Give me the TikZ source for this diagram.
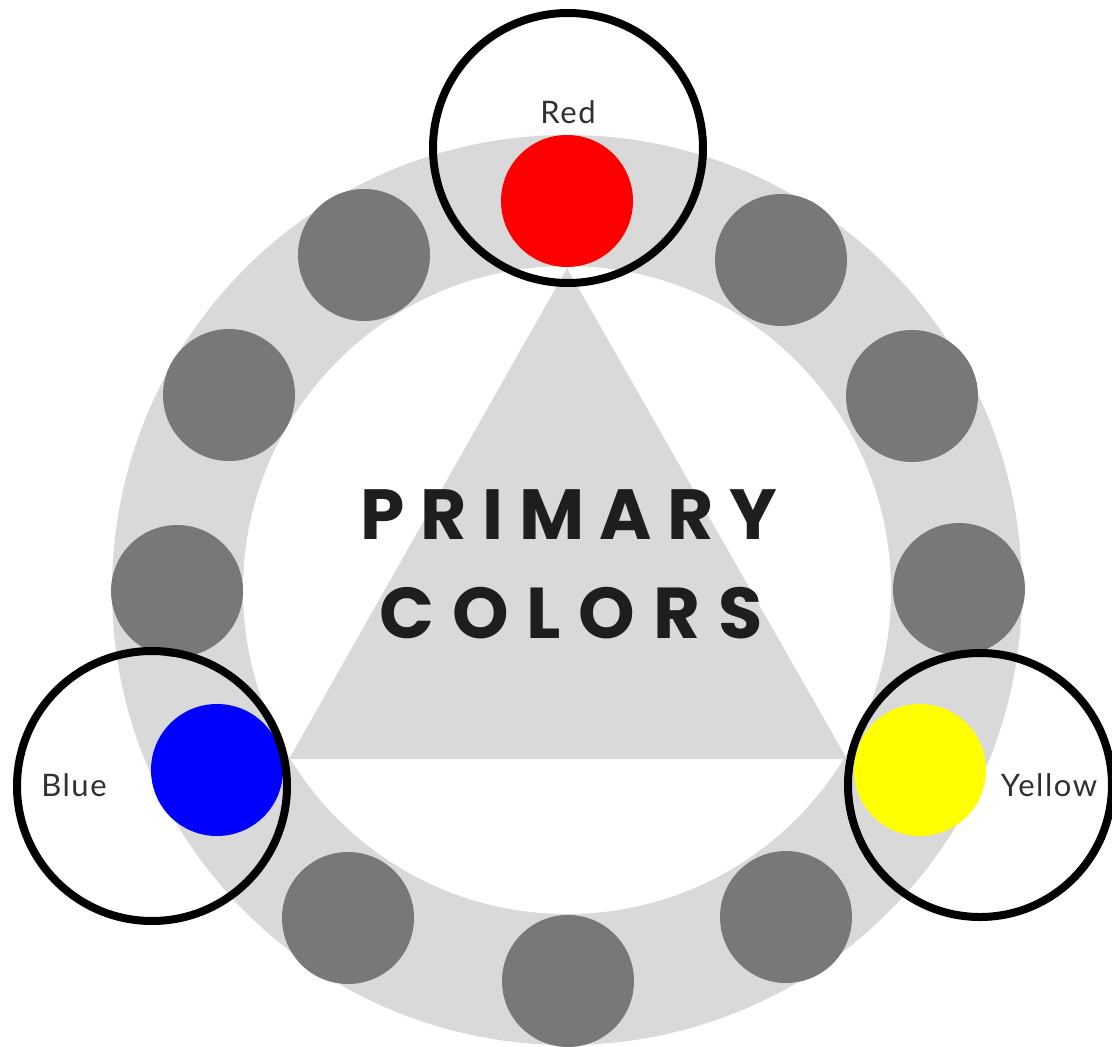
\documentclass[tikz,border=0pt]{standalone}
\usepackage{fontspec}
\newfontfamily\labfont{Lato}[LetterSpace=5]
\newfontfamily\titlefont{Poppins}[LetterSpace=22]
\newfontfamily\titlefontb{Poppins}[LetterSpace=25]
\definecolor{ringgray}{HTML}{D9D9D9}
\definecolor{dotgray}{HTML}{787878}
\definecolor{titleink}{HTML}{1E1E1E}
\definecolor{labink}{HTML}{303030}
\definecolor{pred}{HTML}{FF0000}
\definecolor{pblue}{HTML}{0000FF}
\definecolor{pyellow}{HTML}{FFFF00}
\begin{document}
\begin{tikzpicture}[x=1pt,y=-1pt,
  dot/.style={circle,fill=dotgray,minimum size=132pt,inner sep=0pt},
  primdot/.style={circle,minimum size=132pt,inner sep=0pt},
  lens/.style={circle,draw=black,line width=8pt,minimum size=270pt,inner sep=0pt},
  lab/.style={font=\labfont\fontsize{31}{31}\selectfont,text=labink,inner sep=0pt},
  title/.style={font=\titlefont\bfseries\fontsize{71}{71}\selectfont,text=titleink,inner sep=0pt},
  titleb/.style={font=\titlefontb\bfseries\fontsize{72}{72}\selectfont,text=titleink,inner sep=0pt}]
\useasboundingbox (0,0) rectangle (1112,1047);
\fill[white] (0,0) rectangle (1112,1047);
\coordinate (c) at (567,590);
% ring
\fill[ringgray] (c) circle[radius=455];
\fill[white] (c) circle[radius=324];
% triangle
\coordinate (t1) at (567,268);
\coordinate (t2) at (289,759);
\coordinate (t3) at (847,759);
\fill[ringgray] (t1) -- (t2) -- (t3) -- cycle;
% dots
\node[primdot,fill=pred] (red) at (567,201) {};
\node[dot] (ul1) at (364,255) {};
\node[dot] (ul2) at (229,395) {};
\node[dot] (l) at (177,591) {};
\node[primdot,fill=pblue] (blue) at (217,770) {};
\node[dot] (ll) at (348,918) {};
\node[dot] (b) at (568,981) {};
\node[dot] (lr) at (786,917) {};
\node[primdot,fill=pyellow] (yellow) at (920,770) {};
\node[dot] (r) at (959,589) {};
\node[dot] (ur2) at (912,396) {};
\node[dot] (ur1) at (781,260) {};
% lenses
\node[lens] (redlens) at (568,148) {};
\node[lens] (bluelens) at (152,786) {};
\node[lens,minimum size=264pt] (yellens) at (980,785) {};
% labels
\node[lab] (redlab) at (568,112) {Red};
\node[lab] (bluelab) at (74,785) {Blue};
\node[lab] (yellab) at (1049,785) {Yellow};
% title
\node[title] (t1txt) at (569,515) {PRIMARY};
\node[titleb] (t2txt) at (571,613) {COLORS};
\end{tikzpicture}
\end{document}
